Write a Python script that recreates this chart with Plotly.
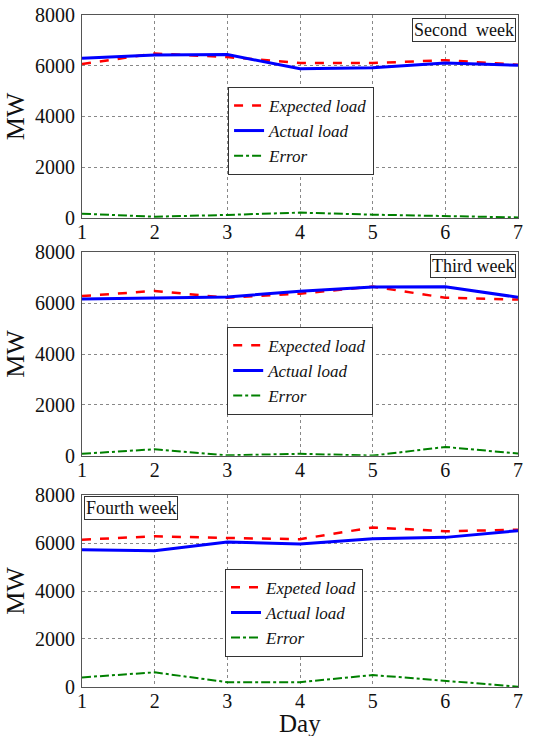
import plotly.graph_objects as go
from plotly.subplots import make_subplots

days = [1, 2, 3, 4, 5, 6, 7]

week2_expected = [6065, 6480, 6340, 6110, 6105, 6220, 6040]
week2_actual = [6300, 6420, 6440, 5880, 5920, 6110, 6020]
week2_error = [170, 50, 120, 210, 130, 80, 20]

week3_expected = [6275, 6480, 6210, 6370, 6650, 6210, 6140]
week3_actual = [6160, 6200, 6240, 6470, 6630, 6640, 6230]
week3_error = [80, 260, 20, 80, 10, 350, 90]

week4_expected = [6140, 6280, 6210, 6160, 6650, 6490, 6555]
week4_actual = [5720, 5680, 6040, 5960, 6180, 6235, 6515]
week4_error = [400, 610, 200, 200, 500, 270, 15]

day_title = "Day"
y_title = "MW"

panels = [
    ("Second  week", ["Expected load", "Actual load", "Error"],
     week2_expected, week2_actual, week2_error),
    ("Third week", ["Expected load", "Actual load", "Error"],
     week3_expected, week3_actual, week3_error),
    ("Fourth week", ["Expeted load", "Actual load", "Error"],
     week4_expected, week4_actual, week4_error),
]

FONT = "Liberation Serif"

fig = make_subplots(rows=3, cols=1)

legend_names = ["legend", "legend2", "legend3"]
for i, (title, names, exp, act, err) in enumerate(panels):
    r = i + 1
    lg = legend_names[i]
    fig.add_trace(go.Scatter(x=days, y=exp, mode="lines", name=names[0],
                             line=dict(color="#ff0000", width=2.5, dash="dash"),
                             legend=lg), row=r, col=1)
    fig.add_trace(go.Scatter(x=days, y=act, mode="lines", name=names[1],
                             line=dict(color="#0000ff", width=3),
                             legend=lg), row=r, col=1)
    fig.add_trace(go.Scatter(x=days, y=err, mode="lines", name=names[2],
                             line=dict(color="#008000", width=2, dash="dashdot"),
                             legend=lg), row=r, col=1)

domains = [[0.698, 1.0], [0.344, 0.647], [0.0, 0.2857]]
axis_common = dict(
    showline=True, linecolor="#555555", linewidth=1, mirror=True,
    showgrid=True, gridcolor="#888888", griddash="dot", gridwidth=1,
    ticks="", zeroline=False, automargin=False, ticklabeloverflow="allow",
    tickfont=dict(family=FONT, size=20, color="#111111"),
)
for i in range(3):
    xa = "xaxis" if i == 0 else f"xaxis{i+1}"
    ya = "yaxis" if i == 0 else f"yaxis{i+1}"
    fig.layout[ya].update(domain=domains[i], range=[0, 8000],
                          tickvals=[0, 2000, 4000, 6000, 8000],
                          ticklabelstandoff=2,
                          title=dict(text=y_title, font=dict(family=FONT, size=26, color="#111111"),
                                     standoff=2),
                          **axis_common)
    fig.layout[xa].update(range=[1, 7], tickvals=days, ticklabelstandoff=-4, **axis_common)

# x-axis title for the bottom panel, placed in the bottom margin
fig.add_annotation(text=day_title, xref="paper", yref="paper", x=0.5, y=-0.031,
                   xanchor="center", yanchor="top", showarrow=False,
                   font=dict(family=FONT, size=25, color="#111111"))

legend_pos = [(0.335, 0.893), (0.333, 0.536), (0.328, 0.176)]
for i, lg in enumerate(legend_names):
    fig.layout[lg] = dict(
        x=legend_pos[i][0], y=legend_pos[i][1], xanchor="left", yanchor="top",
        bgcolor="white", bordercolor="#333333", borderwidth=1,
        font=dict(family=FONT, size=17, color="#111111", style="italic"),
        itemwidth=30, tracegroupgap=0,
    )

ann_pos = [(0.996, 0.996, "right"), (0.996, 0.644, "right"), (0.004, 0.284, "left")]
for i, (title, *_rest) in enumerate(panels):
    x, y, anc = ann_pos[i]
    fig.add_annotation(text=title, xref="paper", yref="paper", x=x, y=y,
                       xanchor=anc, yanchor="top", showarrow=False,
                       font=dict(family=FONT, size=18, color="#111111"),
                       bgcolor="white", bordercolor="#333333", borderwidth=1,
                       borderpad=1)

fig.update_layout(
    width=540, height=736,
    margin=dict(l=82, r=22, t=15, b=49),
    plot_bgcolor="white", paper_bgcolor="white",
    showlegend=True,
)

# remove the default 8px page margin so the figure fills the window exactly
fig.write_html("out.html", config={"displayModeBar": False},
               post_script="document.body.style.margin='0';")
